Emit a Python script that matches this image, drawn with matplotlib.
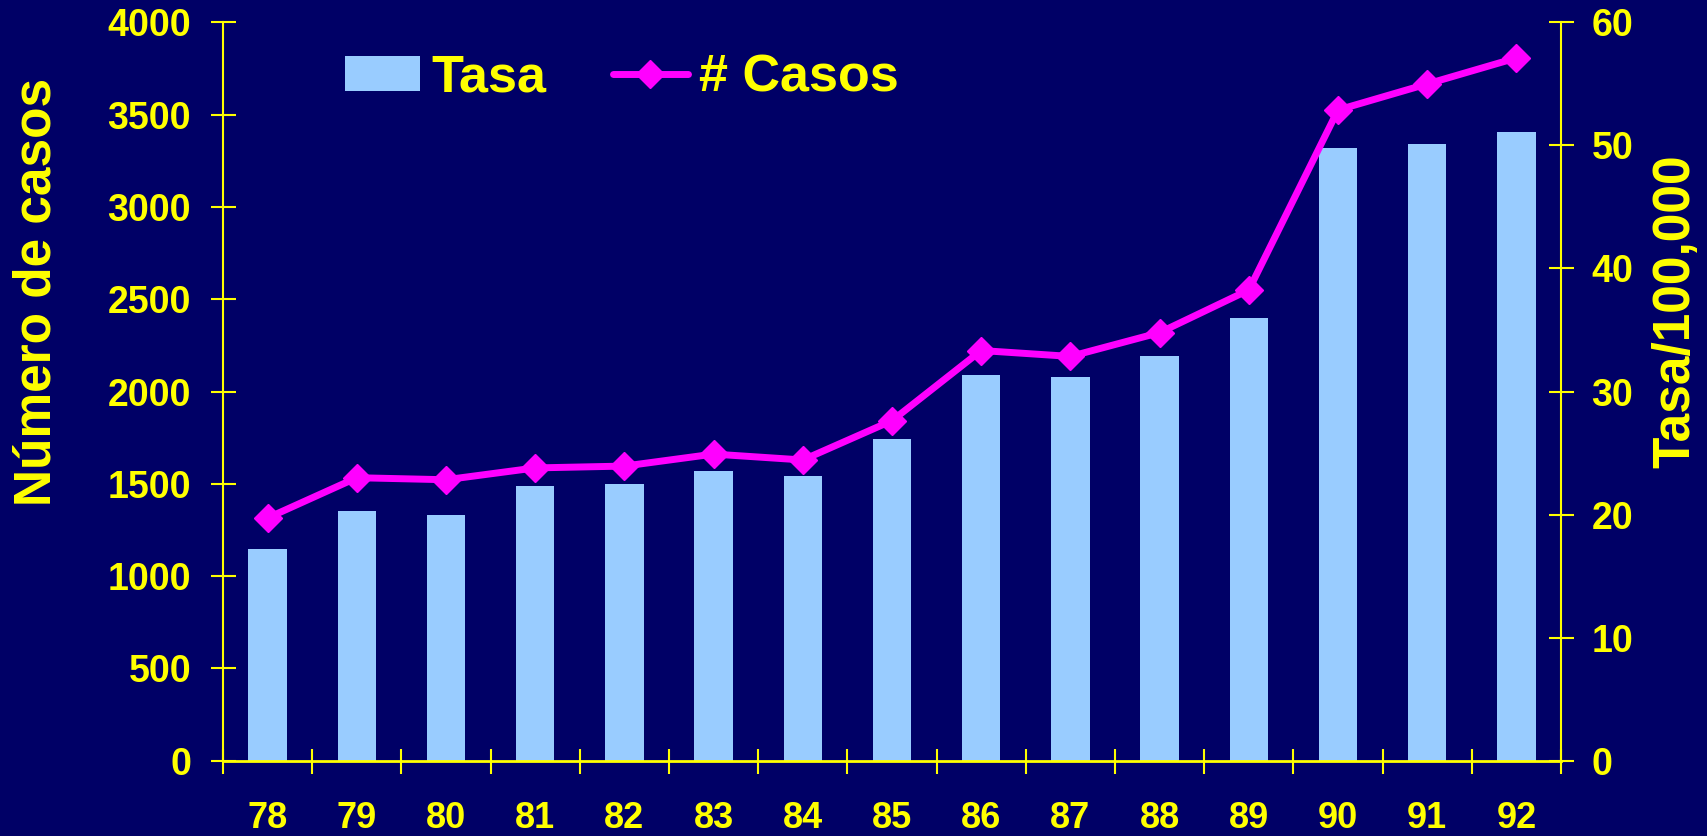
import numpy as np
import matplotlib
matplotlib.use("Agg")
import matplotlib.pyplot as plt

years = ["78", "79", "80", "81", "82", "83", "84", "85", "86", "87", "88", "89", "90", "91", "92"]
tasa = [17.2, 20.3, 19.95, 22.35, 22.5, 23.5, 23.1, 26.1, 31.35, 31.2, 32.9, 36.0, 49.8, 50.1, 51.1]
casos = [1315, 1533, 1522, 1586, 1596, 1661, 1629, 1842, 2222, 2190, 2319, 2550, 3525, 3666, 3807]
left_ticks = [0, 500, 1000, 1500, 2000, 2500, 3000, 3500, 4000]
right_ticks = [0, 10, 20, 30, 40, 50, 60]

BG = "#000066"
YEL = "#FFFF00"
BAR = "#99CCFF"
MAG = "#FF00FF"

plt.rcParams['font.family'] = ['Liberation Sans', 'DejaVu Sans']
plt.rcParams['font.weight'] = 'bold'

fig = plt.figure(figsize=(17.08, 8.36), dpi=100, facecolor=BG)
ax = fig.add_axes([223/1708, 1-760.7/836, (1561-223)/1708, (760.7-22.3)/836])
ax.set_facecolor(BG)
x = np.arange(len(years))

# bars (Tasa) on host axis, scale shown on right
bars = ax.bar(x, tasa, width=0.43, color=BAR, zorder=2, label="Tasa")
ax.set_ylim(0, 60)
ax.set_xlim(-0.5, len(years) - 0.5)

ax2 = ax.twinx()
line, = ax2.plot(x, casos, color=MAG, lw=5, marker='D', ms=14, mew=1,
                 mec=MAG, mfc=MAG, solid_capstyle='round', zorder=3, label="# Casos")
ax2.set_ylim(0, 4000)

ax.yaxis.tick_right()
ax.yaxis.set_label_position('right')
ax2.yaxis.tick_left()
ax2.yaxis.set_label_position('left')
ax.set_yticks(right_ticks)
ax.set_yticklabels([str(t) for t in right_ticks])
ax2.set_yticks(left_ticks)
ax2.set_yticklabels([str(t) for t in left_ticks])

for a in (ax, ax2):
    for s in a.spines.values():
        s.set_visible(False)
    a.tick_params(axis='y', colors=YEL, direction='inout', length=18, width=1.5,
                  labelsize=27)
ax2.spines['left'].set_visible(True)
ax2.spines['left'].set_color(YEL)
ax2.spines['left'].set_linewidth(1.5)
ax.spines['right'].set_visible(True)
ax.spines['right'].set_color(YEL)
ax.spines['right'].set_linewidth(1.5)
ax.spines['bottom'].set_visible(True)
ax.spines['bottom'].set_color(YEL)
ax.spines['bottom'].set_linewidth(2)
ax2.tick_params(axis='y', pad=14)
ax.tick_params(axis='y', pad=13)

# x ticks at category boundaries, labels at centers
ax.set_xticks(np.arange(-0.5, len(years), 1.0))
ax.set_xticklabels([])
ax.set_xticks(x, minor=True)
ax.set_xticklabels(years, minor=True)
ax.tick_params(axis='x', which='major', colors=YEL, direction='inout', length=18, width=1.5)
ax.tick_params(axis='x', which='minor', length=0, pad=29, labelsize=26, labelcolor=YEL)

for lbl in ax.get_yticklabels() + ax2.get_yticklabels() + ax.get_xticklabels(minor=True):
    lbl.set_fontweight('bold')

fig.text(37/1708, 1-292/836, "Número de casos", rotation=90, ha='center', va='center',
         color=YEL, fontsize=37, fontweight='bold')
fig.text(1676/1708, 1-311/836, "Tasa/100,000", rotation=90, ha='center', va='center',
         color=YEL, fontsize=37, fontweight='bold')

leg = fig.legend([bars, line], ["Tasa", "# Casos"], loc='center left',
                 bbox_to_anchor=(345/1708, 1-78/836), ncol=2, frameon=False,
                 borderpad=0, borderaxespad=0, handlelength=1.44,
                 handleheight=0.67, handletextpad=0.22, columnspacing=1.27,
                 numpoints=1, labelcolor=YEL, prop={'weight': 'bold', 'size': 37.5})

fig.savefig("out.png", dpi=100, facecolor=BG)
